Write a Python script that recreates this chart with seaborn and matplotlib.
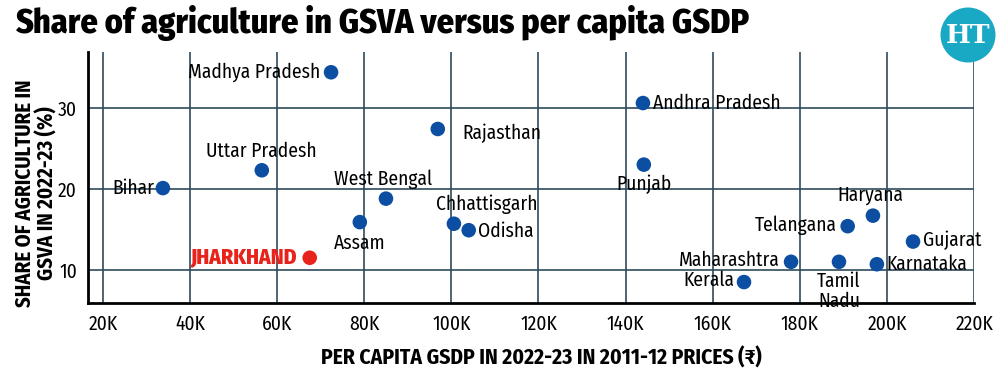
import numpy as np
import pandas as pd
import matplotlib.pyplot as plt
import seaborn as sns
from matplotlib.patches import Circle

# data
states = ['Madhya Pradesh', 'Andhra Pradesh', 'Rajasthan', 'Uttar Pradesh', 'Bihar',
          'Punjab', 'West Bengal', 'Assam', 'Chhattisgarh', 'Odisha', 'JHARKHAND',
          'Haryana', 'Telangana', 'Gujarat', 'Maharashtra', 'Tamil\nNadu',
          'Karnataka', 'Kerala']
gsdp_k = [72.4, 144.0, 96.9, 56.5, 33.8, 144.2, 85.0, 79.0, 100.6, 104.0, 67.5,
          196.8, 191.0, 206.0, 178.0, 189.0, 197.7, 167.2]
agri_share = [34.4, 30.6, 27.4, 22.3, 20.1, 23.0, 18.8, 15.9, 15.7, 14.9, 11.5,
              16.7, 15.4, 13.5, 11.0, 11.0, 10.7, 8.5]
highlight = ['JHARKHAND']
x_ticks = [20, 40, 60, 80, 100, 120, 140, 160, 180, 200, 220]
x_tick_labels = [f'{t}K' for t in x_ticks]
y_ticks = [10, 20, 30]

df = pd.DataFrame({'state': states, 'gsdp': gsdp_k, 'agri': agri_share})
df['group'] = np.where(df['state'].isin(highlight), 'hl', 'rest')

sns.set_style('white')
fonts = ['Fira Sans Condensed', 'Roboto Condensed', 'Noto Sans', 'DejaVu Sans']
plt.rcParams['font.family'] = fonts
for k in ['text.color', 'axes.labelcolor', 'xtick.color', 'ytick.color']:
    plt.rcParams[k] = 'black'

blue = '#0b4ea2'
red = '#e8231b'
grid_c = '#2f4a5c'

fig = plt.figure(figsize=(10, 3.77), dpi=100)
ax = fig.add_axes([0.088, 0.196, 0.886, 0.666])

sns.scatterplot(data=df, x='gsdp', y='agri', hue='group',
                palette={'rest': blue, 'hl': red}, s=110, linewidth=0,
                legend=False, ax=ax, zorder=3)

ax.set_xlim(16.6, 220)
ax.set_ylim(5.9, 36.9)
ax.set_xticks(x_ticks)
ax.set_xticklabels(x_tick_labels)
ax.set_yticks(y_ticks)
ax.grid(True, color=grid_c, linewidth=1.2, zorder=0)
ax.set_axisbelow(True)
for s in ['top', 'right']:
    ax.spines[s].set_visible(False)
for s in ['left', 'bottom']:
    ax.spines[s].set_color('black')
    ax.spines[s].set_linewidth(2)
ax.tick_params(axis='both', length=0, labelsize=14, pad=8)
ax.set_xlabel('')
ax.set_ylabel('')

# label placement: (dx, dy in points, ha, va)
place = {
    'Madhya Pradesh': (-8, 0, 'right', 'center'),
    'Andhra Pradesh': (7, 0, 'left', 'center'),
    'Rajasthan': (18, -3, 'left', 'center'),
    'Uttar Pradesh': (0, 14, 'center', 'center'),
    'Bihar': (-6, 0, 'right', 'center'),
    'Punjab': (0, -14, 'center', 'center'),
    'West Bengal': (-2, 14, 'center', 'center'),
    'Assam': (0, -15, 'center', 'center'),
    'Chhattisgarh': (24, 14, 'center', 'center'),
    'Odisha': (7, -1, 'left', 'center'),
    'JHARKHAND': (-9, 0, 'right', 'center'),
    'Haryana': (-2, 15, 'center', 'center'),
    'Telangana': (-8, 1, 'right', 'center'),
    'Gujarat': (7, 1, 'left', 'center'),
    'Maharashtra': (-8, 1, 'right', 'center'),
    'Tamil\nNadu': (0, -7, 'center', 'top'),
    'Karnataka': (7, 0, 'left', 'center'),
    'Kerala': (-7, 1, 'right', 'center'),
}
for _, r in df.iterrows():
    dx, dy, ha, va = place[r['state']]
    hl = r['group'] == 'hl'
    ax.annotate(r['state'], (r['gsdp'], r['agri']), xytext=(dx, dy),
                textcoords='offset points', ha=ha, va=va,
                fontsize=15.5 if hl else 14, color=red if hl else 'black',
                fontweight=800 if hl else 'normal',
                linespacing=1.0, zorder=4)

fig.text(0.015, 0.94, 'Share of agriculture in GSVA versus per capita GSDP',
         fontsize=24.5, fontweight=800, ha='left', va='center')
fig.text(0.036, 0.487, 'SHARE OF AGRICULTURE IN\nGSVA IN 2022-23 (%)',
         rotation=90, fontsize=15, fontweight='bold', ha='center', va='center',
         linespacing=1.0)
fig.text(0.541, 0.05, 'PER CAPITA GSDP IN 2022-23 IN 2011-12 PRICES (₹)',
         fontsize=15.5, fontweight='bold', ha='center', va='center')

# HT logo
logo = Circle((9.68, 3.42), 0.275, transform=fig.dpi_scale_trans,
              facecolor='#1aa9c4', edgecolor='none', clip_on=False)
fig.add_artist(logo)
fig.text(0.968, 0.907, 'HT', color='white', fontsize=19, fontweight='bold',
         family='DejaVu Serif', ha='center', va='center')

fig.savefig('out.png', dpi=100)
